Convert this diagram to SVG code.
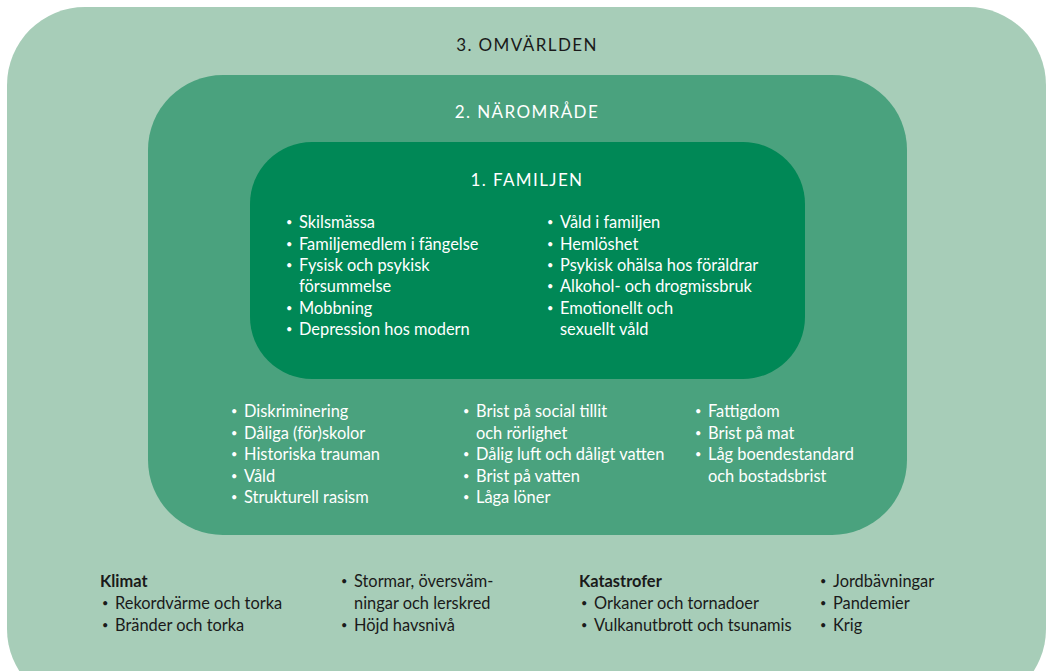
<svg xmlns="http://www.w3.org/2000/svg" width="1050" height="671" viewBox="0 0 1050 671">
<style>
text{font-family:Lato,"Open Sans","Liberation Sans",sans-serif;font-size:16.4px}
.t{font-size:17px;letter-spacing:1.4px;text-anchor:middle}
.w{fill:#ffffff}
.d{fill:#1a1a1a}
.b{font-weight:bold}
.u{font-size:11px}
</style>
<rect width="1050" height="671" fill="#ffffff"/>
<g id="omvarlden">
<rect x="7" y="7" width="1039" height="700" rx="78" ry="78" fill="#a7cdb8"/>
<text class="t d" x="527" y="51">3. OMVÄRLDEN</text>
<g class="d">
<text class="b" x="100" y="587">Klimat</text>
<text class="u" x="102" y="607">•</text><text x="115" y="609">Rekordvärme och torka</text>
<text class="u" x="102" y="629">•</text><text x="115" y="631">Bränder och torka</text>
<text class="u" x="341" y="585">•</text><text x="354" y="587">Stormar, översväm-</text>
<text x="354" y="609">ningar och lerskred</text>
<text class="u" x="341" y="629">•</text><text x="354" y="631">Höjd havsnivå</text>
<text class="b" x="579" y="587">Katastrofer</text>
<text class="u" x="581" y="607">•</text><text x="594" y="609">Orkaner och tornadoer</text>
<text class="u" x="581" y="629">•</text><text x="594" y="631">Vulkanutbrott och tsunamis</text>
<text class="u" x="820" y="585">•</text><text x="833" y="587">Jordbävningar</text>
<text class="u" x="820" y="607">•</text><text x="833" y="609">Pandemier</text>
<text class="u" x="820" y="629">•</text><text x="833" y="631">Krig</text>
</g>
</g>
<g id="naromrade">
<rect x="148" y="75" width="759" height="460" rx="75" ry="75" fill="#4aa27e"/>
<text class="t w" x="527" y="118">2. NÄROMRÅDE</text>
<g class="w">
<text class="u" x="231" y="415">•</text><text x="244" y="417">Diskriminering</text>
<text class="u" x="231" y="437">•</text><text x="244" y="439">Dåliga (för)skolor</text>
<text class="u" x="231" y="458">•</text><text x="244" y="460">Historiska trauman</text>
<text class="u" x="231" y="480">•</text><text x="244" y="482">Våld</text>
<text class="u" x="231" y="501">•</text><text x="244" y="503">Strukturell rasism</text>
<text class="u" x="463" y="415">•</text><text x="476" y="417">Brist på social tillit</text>
<text x="476" y="439">och rörlighet</text>
<text class="u" x="463" y="458">•</text><text x="476" y="460">Dålig luft och dåligt vatten</text>
<text class="u" x="463" y="480">•</text><text x="476" y="482">Brist på vatten</text>
<text class="u" x="463" y="501">•</text><text x="476" y="503">Låga löner</text>
<text class="u" x="695" y="415">•</text><text x="708" y="417">Fattigdom</text>
<text class="u" x="695" y="437">•</text><text x="708" y="439">Brist på mat</text>
<text class="u" x="695" y="458">•</text><text x="708" y="460">Låg boendestandard</text>
<text x="708" y="482">och bostadsbrist</text>
</g>
</g>
<g id="familjen">
<rect x="250" y="142" width="555" height="237" rx="62" ry="62" fill="#008856"/>
<text class="t w" x="527" y="186">1. FAMILJEN</text>
<g class="w">
<text class="u" x="286" y="226">•</text><text x="299" y="228">Skilsmässa</text>
<text class="u" x="286" y="248">•</text><text x="299" y="250">Familjemedlem i fängelse</text>
<text class="u" x="286" y="269">•</text><text x="299" y="271">Fysisk och psykisk</text>
<text x="299" y="292">försummelse</text>
<text class="u" x="286" y="312">•</text><text x="299" y="314">Mobbning</text>
<text class="u" x="286" y="333">•</text><text x="299" y="335">Depression hos modern</text>
<text class="u" x="547" y="226">•</text><text x="560" y="228">Våld i familjen</text>
<text class="u" x="547" y="248">•</text><text x="560" y="250">Hemlöshet</text>
<text class="u" x="547" y="269">•</text><text x="560" y="271">Psykisk ohälsa hos föräldrar</text>
<text class="u" x="547" y="290">•</text><text x="560" y="292">Alkohol- och drogmissbruk</text>
<text class="u" x="547" y="312">•</text><text x="560" y="314">Emotionellt och</text>
<text x="560" y="335">sexuellt våld</text>
</g>
</g>
<g id="connectors"/>
</svg>
